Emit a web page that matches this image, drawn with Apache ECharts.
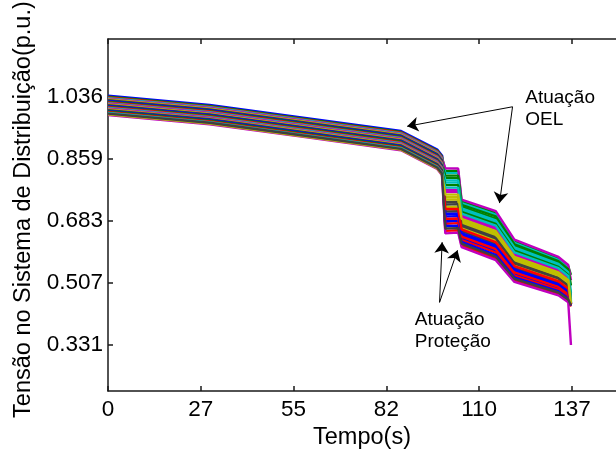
<!DOCTYPE html>
<html>
<head>
<meta charset="utf-8">
<script src="https://cdn.jsdelivr.net/npm/echarts@6/dist/echarts.min.js"></script>
<style>
html,body{margin:0;padding:0;background:#fff;}
#c{width:616px;height:455px;}
</style>
</head>
<body>
<div id="c"></div>
<script>
// shared sample times (s)
const T = [0, 30, 56, 86.5, 97.2, 98.6, 99.6, 103.4, 104.4, 114.5, 120, 133, 135.9, 136.7];

// voltages (p.u.) for each feeder curve
const s01 = [1.038,1.012,0.978,0.938,0.885,0.868,0.682,0.684,0.634,0.598,0.532,0.492,0.472,0.446];
const s02 = [1.036,1.010,0.976,0.936,0.883,0.866,0.826,0.825,0.739,0.706,0.626,0.577,0.554,0.530];
const s03 = [1.034,1.008,0.974,0.934,0.881,0.864,0.655,0.657,0.614,0.577,0.514,0.476,0.456,0.440];
const s04 = [1.032,1.006,0.972,0.932,0.879,0.862,0.819,0.819,0.734,0.701,0.621,0.573,0.550,0.480];
const s05 = [1.030,1.004,0.970,0.930,0.877,0.860,0.833,0.832,0.744,0.711,0.630,0.581,0.558,0.515];
const s06 = [1.028,1.002,0.968,0.928,0.875,0.858,0.751,0.751,0.684,0.649,0.577,0.533,0.511,0.450];
const s07 = [1.026,1.000,0.966,0.926,0.873,0.856,0.737,0.738,0.674,0.639,0.568,0.524,0.503,0.470];
const s08 = [1.024,0.998,0.964,0.924,0.871,0.854,0.696,0.697,0.644,0.608,0.541,0.500,0.479,0.448];
const s09 = [1.022,0.996,0.962,0.922,0.869,0.852,0.806,0.805,0.724,0.690,0.612,0.565,0.542,0.455];
const s10 = [1.020,0.994,0.960,0.920,0.867,0.850,0.675,0.677,0.629,0.593,0.528,0.488,0.468,0.444];
const s11 = [1.018,0.992,0.958,0.918,0.865,0.848,0.792,0.792,0.714,0.680,0.603,0.557,0.534,0.452];
const s12 = [1.016,0.990,0.956,0.916,0.863,0.846,0.771,0.771,0.699,0.665,0.590,0.545,0.523,0.447];
const s13 = [1.014,0.988,0.954,0.914,0.861,0.844,0.723,0.724,0.664,0.629,0.559,0.516,0.495,0.449];
const s14 = [1.012,0.986,0.952,0.912,0.859,0.842,0.710,0.711,0.654,0.618,0.550,0.508,0.487,0.446];
const s15 = [1.010,0.984,0.950,0.910,0.857,0.840,0.669,0.670,0.624,0.587,0.523,0.484,0.464,0.443];
const s16 = [1.008,0.982,0.948,0.908,0.855,0.838,0.812,0.812,0.729,0.696,0.617,0.569,0.546,0.500];
const s17 = [1.006,0.980,0.946,0.906,0.853,0.836,0.689,0.690,0.639,0.603,0.537,0.496,0.475,0.445];
const s18 = [1.004,0.978,0.944,0.904,0.851,0.834,0.799,0.798,0.719,0.685,0.608,0.561,0.538,0.460];
const s19 = [1.002,0.976,0.942,0.902,0.849,0.832,0.765,0.765,0.694,0.660,0.586,0.541,0.519,0.450];
const s20 = [1.000,0.974,0.940,0.900,0.847,0.830,0.744,0.744,0.679,0.644,0.572,0.528,0.507,0.448];
const s21 = [0.998,0.972,0.938,0.898,0.845,0.828,0.730,0.731,0.669,0.634,0.563,0.520,0.499,0.452];
const s22 = [0.996,0.970,0.936,0.896,0.843,0.826,0.703,0.704,0.649,0.613,0.546,0.504,0.483,0.447];
const s23 = [0.994,0.968,0.934,0.894,0.841,0.824,0.785,0.785,0.709,0.675,0.599,0.553,0.530,0.450];
const s24 = [0.992,0.966,0.932,0.892,0.839,0.822,0.717,0.717,0.659,0.623,0.555,0.512,0.491,0.446];
const s25 = [0.990,0.964,0.930,0.890,0.837,0.820,0.778,0.778,0.704,0.670,0.594,0.549,0.527,0.451];
const s26 = [0.984,0.958,0.924,0.884,0.831,0.814,0.648,0.650,0.609,0.572,0.510,0.472,0.452,0.331];
const s27 = [0.986,0.960,0.926,0.886,0.833,0.816,0.758,0.758,0.689,0.654,0.581,0.537,0.515,0.449];
const s28 = [0.988,0.962,0.928,0.888,0.835,0.818,0.662,0.663,0.619,0.582,0.519,0.480,0.460,0.444];

const curves = [s01,s02,s03,s04,s05,s06,s07,s08,s09,s10,s11,s12,s13,s14,
                s15,s16,s17,s18,s19,s20,s21,s22,s23,s24,s25,s26,s27,s28];

const xTickValues = [0, 27.4, 54.8, 82.2, 109.6, 137];
const xTickLabels = ['0', '27', '55', '82', '110', '137'];
const yTickValues = [0.3306, 0.5069, 0.6832, 0.8594, 1.0357];
const yTickLabels = ['0.331', '0.507', '0.683', '0.859', '1.036'];

const palette = ['#0000ff','#008000','#ff0000','#00bfbf','#bf00bf','#bfbf00','#404040'];
const FONT = 'Liberation Sans, Arial, Helvetica, sans-serif';

function nearestLabel(vals, labels, v) {
  let best = 0;
  for (let i = 1; i < vals.length; i++) if (Math.abs(vals[i]-v) < Math.abs(vals[best]-v)) best = i;
  return labels[best];
}

const series = curves.map((vals, i) => ({
  type: 'line',
  data: vals.map((v, k) => [T[k], v]),
  showSymbol: false,
  symbol: 'none',
  silent: true,
  lineStyle: { color: palette[i % 7], width: i === 0 ? 3 : 2.4, type: 'solid' },
  emphasis: { disabled: true },
  animation: false
}));

// annotations (arrows and texts) in data coordinates
series.push({
  type: 'line',
  data: [],
  silent: true,
  z: 10,
  animation: false,
  markLine: {
    silent: true,
    animation: false,
    symbol: ['none', 'arrow'],
    symbolSize: 11,
    label: { show: false },
    lineStyle: { color: '#000', width: 1, type: 'solid' },
    itemStyle: { color: '#000' },
    emphasis: { disabled: true },
    data: [
      [{ coord: [119.45, 1.0075] }, { coord: [88.34, 0.952] }],
      [{ coord: [119.45, 1.0075] }, { coord: [115.6, 0.734] }],
      [{ coord: [97.9, 0.452] }, { coord: [98.66, 0.623] }],
      [{ coord: [97.9, 0.452] }, { coord: [103.2, 0.600] }]
    ]
  },
  markPoint: {
    silent: true,
    animation: false,
    symbol: 'circle',
    symbolSize: 0,
    itemStyle: { color: 'transparent' },
    label: {
      show: true, position: 'right', distance: 0, align: 'left',
      color: '#000', fontFamily: FONT, fontSize: 19, lineHeight: 22
    },
    data: [
      { coord: [123.2, 1.001], label: { formatter: 'Atuação\nOEL' } },
      { coord: [90.6, 0.372], label: { formatter: 'Atuação\nProteção' } }
    ]
  }
});

const axisLineStyle = { color: '#1a1a1a', width: 1.5 };

const option = {
  animation: false,
  backgroundColor: '#fff',
  grid: { left: 108, top: 39, width: 517, height: 360, containLabel: false },
  xAxis: [{
    type: 'value', min: 0, max: 150, position: 'bottom',
    name: 'Tempo(s)', nameLocation: 'middle', nameGap: 20,
    nameTextStyle: { fontFamily: FONT, fontSize: 23.5, color: '#000' },
    axisLine: { show: true, lineStyle: axisLineStyle },
    axisTick: { show: true, inside: true, length: 5, lineStyle: axisLineStyle, customValues: xTickValues },
    axisLabel: { show: true, margin: 7, fontFamily: FONT, fontSize: 22.5, color: '#000',
      customValues: xTickValues,
      formatter: v => nearestLabel(xTickValues, xTickLabels, v) },
    splitLine: { show: false }
  }, {
    type: 'value', min: 0, max: 150, position: 'top',
    axisLine: { show: true, lineStyle: axisLineStyle },
    axisTick: { show: true, inside: true, length: 5, lineStyle: axisLineStyle, customValues: xTickValues },
    axisLabel: { show: false },
    splitLine: { show: false }
  }],
  yAxis: [{
    type: 'value', min: 0.2, max: 1.2, position: 'left',
    name: 'Tensão no Sistema de Distribuição(p.u.)', nameLocation: 'middle', nameGap: 64,
    nameTextStyle: { fontFamily: FONT, fontSize: 23.5, color: '#000', padding: [0, 0, 0, 11] },
    axisLine: { show: true, lineStyle: axisLineStyle },
    axisTick: { show: true, inside: true, length: 5, lineStyle: axisLineStyle, customValues: yTickValues },
    axisLabel: { show: true, margin: 5, fontFamily: FONT, fontSize: 22.5, color: '#000',
      customValues: yTickValues,
      formatter: v => nearestLabel(yTickValues, yTickLabels, v) },
    splitLine: { show: false }
  }],
  series: series
};

const chart = echarts.init(document.getElementById('c'), null, { renderer: 'canvas' });
chart.setOption(option);
</script>
</body>
</html>
